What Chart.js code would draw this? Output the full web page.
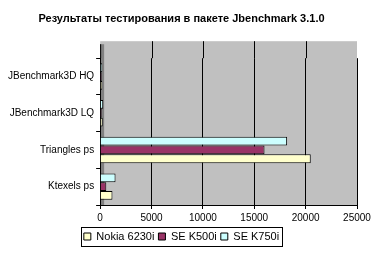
<!DOCTYPE html>
<html>
<head>
<meta charset="utf-8">
<script src="https://cdn.jsdelivr.net/npm/chart.js@4"></script>
<style>
  html, body { margin: 0; padding: 0; background: #fff; }
  #wrap { width: 377px; height: 255px; }
</style>
</head>
<body>
<div id="wrap"><canvas id="c" width="377" height="255"></canvas></div>
<script>
// categories (top to bottom) and series values
const categories = ['JBenchmark3D HQ', 'JBenchmark3D LQ', 'Triangles ps', 'Ktexels ps'];
const nokia6230i = [200, 250, 20500, 1200];
const seK500i = [150, 150, 16000, 600];
const seK750i = [200, 300, 18200, 1500];
const xTicks = [0, 5000, 10000, 15000, 20000, 25000];

const WALL_EXTRA = 17; // back wall rises above the category band (3D look)

// gray back wall with a thin left wall, taller than the bars' area
const plotBg = {
    id: 'plotBg',
    beforeDraw(chart) {
        const { ctx, chartArea: a } = chart;
        const top = a.top - WALL_EXTRA;
        ctx.save();
        ctx.fillStyle = '#c0c0c0';
        ctx.fillRect(a.left, top, a.right - a.left, a.bottom - top);
        ctx.fillStyle = '#808080';
        ctx.fillRect(a.left, top + 3, 4, a.bottom - top - 3);
        // gridlines continue up the wall
        ctx.strokeStyle = '#000';
        ctx.lineWidth = 1;
        const xs = chart.scales.x;
        xTicks.slice(1, -1).forEach(v => {
            const px = Math.round(xs.getPixelForValue(v)) + 0.5;
            ctx.beginPath();
            ctx.moveTo(px, top);
            ctx.lineTo(px, a.top);
            ctx.stroke();
        });
        ctx.beginPath();
        ctx.moveTo(a.left + 0.5, top + 3);
        ctx.lineTo(a.left + 0.5, a.top);
        ctx.stroke();
        ctx.restore();
    }
};

// box around the legend items only
const legendBox = {
    id: 'legendBox',
    afterDraw(chart) {
        const boxes = chart.legend.legendHitBoxes;
        if (!boxes || !boxes.length) return;
        const left = Math.min(...boxes.map(b => b.left)) - 3;
        const right = Math.max(...boxes.map(b => b.left + b.width)) + 3;
        const top = Math.min(...boxes.map(b => b.top)) - 4;
        const bottom = Math.max(...boxes.map(b => b.top + b.height)) + 4;
        const { ctx } = chart;
        ctx.save();
        ctx.strokeStyle = '#000';
        ctx.lineWidth = 1;
        ctx.strokeRect(Math.round(left) + 0.5, Math.round(top) + 0.5, Math.round(right - left), Math.round(bottom - top));
        ctx.restore();
    }
};

Chart.defaults.font.family = 'Arial, "Liberation Sans", sans-serif';
Chart.defaults.font.size = 10;
Chart.defaults.color = '#000';

new Chart(document.getElementById('c'), {
    type: 'bar',
    data: {
        labels: categories,
        datasets: [
            { label: 'SE K750i', data: seK750i, backgroundColor: '#ccffff' },
            { label: 'SE K500i', data: seK500i, backgroundColor: '#993366' },
            { label: 'Nokia 6230i', data: nokia6230i, backgroundColor: '#ffffcc' }
        ]
    },
    options: {
        indexAxis: 'y',
        responsive: false,
        animation: false,
        devicePixelRatio: 1,
        layout: { padding: { left: 6, right: 20, top: 0, bottom: 3 } },
        datasets: {
            bar: {
                borderColor: '#000',
                borderWidth: 1,
                categoryPercentage: 0.72,
                barPercentage: 1
            }
        },
        scales: {
            x: {
                min: 0,
                max: 25000,
                afterBuildTicks: s => { s.ticks = xTicks.map(v => ({ value: v })); },
                grid: { color: '#000', drawTicks: true, tickLength: 4 },
                border: { color: '#000' },
                ticks: { padding: 3, callback: v => String(v) }
            },
            y: {
                grid: { color: '#000', drawOnChartArea: false, offset: true, tickLength: 4 },
                border: { color: '#000' },
                ticks: { padding: 2 }
            }
        },
        plugins: {
            title: {
                display: true,
                text: 'Результаты тестирования в пакете Jbenchmark 3.1.0',
                font: { size: 11, weight: 'bold' },
                padding: { top: 12, bottom: 16 + WALL_EXTRA }
            },
            legend: {
                position: 'bottom',
                reverse: true,
                labels: {
                    boxWidth: 7,
                    boxHeight: 7,
                    padding: 4,
                    font: { size: 11 }
                }
            },
            tooltip: { enabled: false }
        }
    },
    plugins: [plotBg, legendBox]
});
</script>
</body>
</html>
